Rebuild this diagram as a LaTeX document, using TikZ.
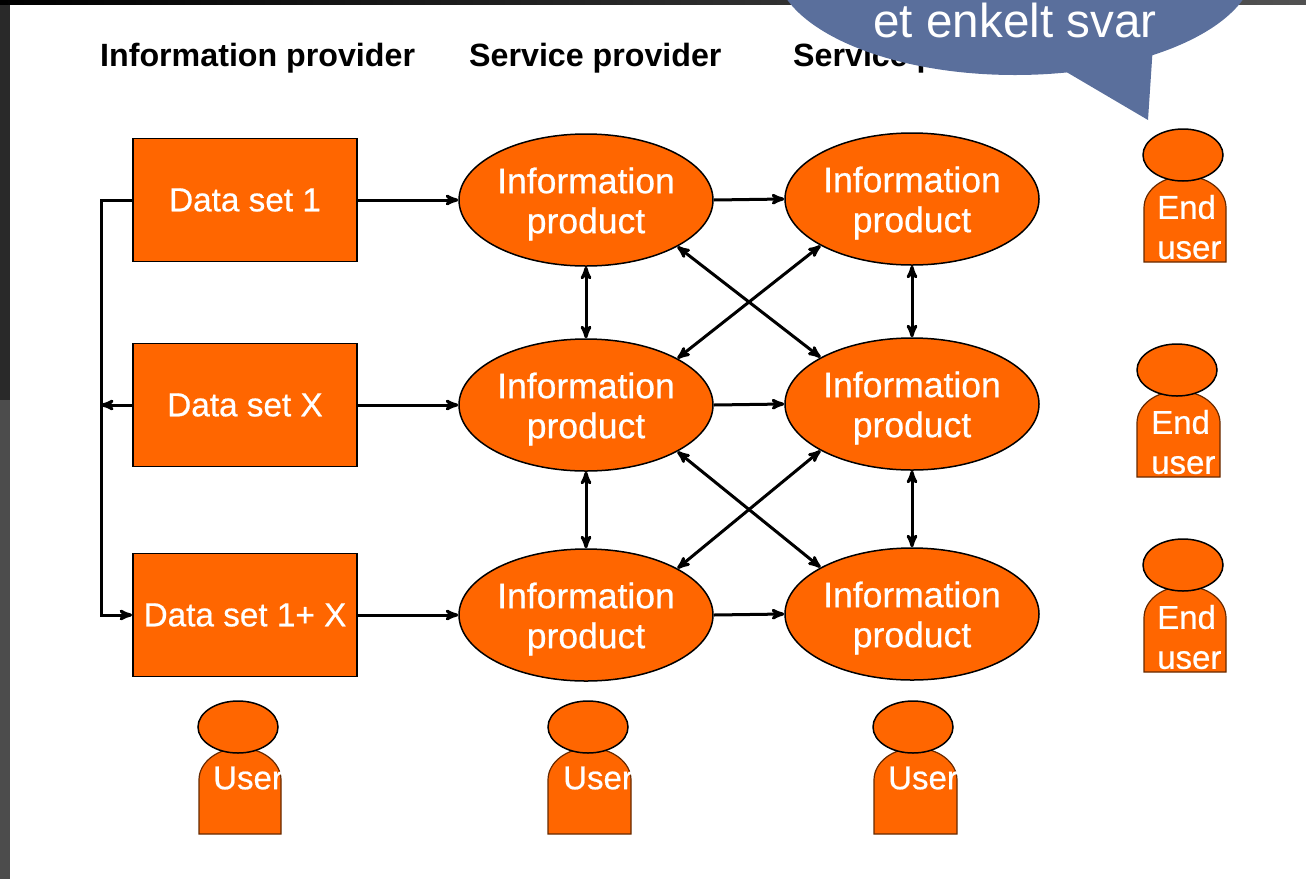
\documentclass[tikz,border=0pt]{standalone}
\usepackage{fontspec}
\setmainfont{Liberation Sans}
\newfontfamily\prodfont[FakeBold=0.6]{Liberation Sans}
\usetikzlibrary{arrows,shapes.geometric}

\definecolor{prodorange}{HTML}{FF6600}
\definecolor{bubbleblue}{HTML}{5A6F9C}

\tikzset{
  dataset/.style={rectangle,draw=black,line width=1.8pt,fill=prodorange,text=white,
    minimum width=224pt,minimum height=123pt,font=\prodfont\fontsize{33.3}{40}\selectfont},
  infoprod/.style={ellipse,draw=black,line width=1.5pt,fill=prodorange,
    minimum width=254pt,minimum height=132pt,inner sep=0pt},
  prodlabel/.style={text=white,align=center,inner sep=0pt,yshift=-4pt,font=\prodfont\fontsize{35.5}{40}\selectfont},
  head/.style={ellipse,draw=black,line width=1.5pt,fill=prodorange,minimum width=80pt,minimum height=52pt,inner sep=0pt},
  body/.style={draw=black!60!prodorange,line width=1.2pt,fill=prodorange},
  personlabel/.style={anchor=west,text=white,align=left,inner sep=0pt,font=\prodfont\fontsize{33}{40}\selectfont},
  heading/.style={anchor=west,inner sep=0pt,font=\fontsize{32.2}{36}\selectfont\bfseries},
  link/.style={line width=3pt,-stealth'},
  twoway/.style={line width=3pt,stealth'-stealth'}
}

\begin{document}
\begin{tikzpicture}[x=1pt,y=-1pt]

  \useasboundingbox (0,0) rectangle (1306,879);

  % slide behind the picture
  \fill[black!84] (0,0) rectangle (10,400);
  \fill[black!70] (0,400) rectangle (10,879);
  \shade[left color=black,right color=black!68] (0,0) rectangle (1306,4);

  % column headings
  \node[heading] (headinfo) at (100,58) {Information provider};
  \node[heading] (headserv) at (469,58) {Service provider};
  \node[heading] (headservb) at (793,58) {Service provider};

  % data sets
  \node[dataset] (dsone) at (245,200) {Data set 1};
  \node[dataset] (dsx) at (245,405) {Data set X};
  \node[dataset] (dsboth) at (245,615) {Data set 1+ X};

  % information products
  \node[infoprod] (ipa) at (586,200) {};
  \node[prodlabel] (ipatext) at (ipa) {Information\\product};
  \node[infoprod] (ipb) at (586,405) {};
  \node[prodlabel] (ipbtext) at (ipb) {Information\\product};
  \node[infoprod] (ipc) at (586,615) {};
  \node[prodlabel] (ipctext) at (ipc) {Information\\product};
  \node[infoprod] (ipd) at (912,199) {};
  \node[prodlabel] (ipdtext) at (ipd) {Information\\product};
  \node[infoprod] (ipe) at (912,404) {};
  \node[prodlabel] (ipetext) at (ipe) {Information\\product};
  \node[infoprod] (ipf) at (912,614) {};
  \node[prodlabel] (ipftext) at (ipf) {Information\\product};

  % left bus
  \coordinate (busup) at (101,200);
  \coordinate (busmid) at (101,405);
  \coordinate (busdown) at (101,615);
  \draw[link] (dsone.west) -- (busup) -- (busdown) -- (dsboth.west);
  \draw[link] (dsx.west) -- (busmid);

  % rows
  \draw[link] (dsone.east) -- (ipa.west);
  \draw[link] (dsx.east) -- (ipb.west);
  \draw[link] (dsboth.east) -- (ipc.west);
  \draw[link] (ipa.east) -- (ipd.west);
  \draw[link] (ipb.east) -- (ipe.west);
  \draw[link] (ipc.east) -- (ipf.west);

  % columns
  \draw[twoway] (ipa.south) -- (ipb.north);
  \draw[twoway] (ipb.south) -- (ipc.north);
  \draw[twoway] (ipd.south) -- (ipe.north);
  \draw[twoway] (ipe.south) -- (ipf.north);

  % crossings
  \draw[twoway] (ipa.-27) -- (ipe.153);
  \draw[twoway] (ipd.-153) -- (ipb.27);
  \draw[twoway] (ipb.-27) -- (ipf.153);
  \draw[twoway] (ipe.-153) -- (ipc.27);

  % users under the columns
  \draw[body] (199,834) -- (199,780) arc[start angle=180,end angle=360,x radius=41,y radius=32] -- (281,834) -- cycle;
  \node[head] (heada) at (238,727) {};
  \node[personlabel] (usera) at (213,778) {User};

  \draw[body] (548,834) -- (548,780) arc[start angle=180,end angle=360,x radius=41.5,y radius=32] -- (631,834) -- cycle;
  \node[head] (headb) at (588,727) {};
  \node[personlabel] (userb) at (563,778) {User};

  \draw[body] (874,834) -- (874,780) arc[start angle=180,end angle=360,x radius=41.5,y radius=32] -- (957,834) -- cycle;
  \node[head] (headc) at (913,727) {};
  \node[personlabel] (userc) at (888,778) {User};

  % end users
  \draw[body] (1144,262) -- (1144,208) arc[start angle=180,end angle=360,x radius=41,y radius=32] -- (1226,262) -- cycle;
  \node[head] (headd) at (1183,155) {};
  \node[personlabel] (endusera) at (1157,227) {End\\user};

  \draw[body] (1137,477) -- (1137,423) arc[start angle=180,end angle=360,x radius=41.5,y radius=32] -- (1220,477) -- cycle;
  \node[head] (heade) at (1177,370) {};
  \node[personlabel] (enduserb) at (1151,442) {End\\user};

  \draw[body] (1144,672) -- (1144,618) arc[start angle=180,end angle=360,x radius=41,y radius=32] -- (1226,672) -- cycle;
  \node[head] (headf) at (1183,565) {};
  \node[personlabel] (enduserc) at (1157,637) {End\\user};

  % speech bubble, cut by the top edge
  \begin{scope}
    \clip (0,0) rectangle (1306,879);
    \fill[bubbleblue] (1015,-35) circle[x radius=240,y radius=110];
    \fill[bubbleblue] (1063,70) -- (1148,120) -- (1153,45) -- cycle;
  \end{scope}
  \node[anchor=center,text=white,inner sep=0pt,font=\fontsize{47.6}{56}\selectfont] (bubbletext) at (1015,20) {et enkelt svar};

\end{tikzpicture}
\end{document}
